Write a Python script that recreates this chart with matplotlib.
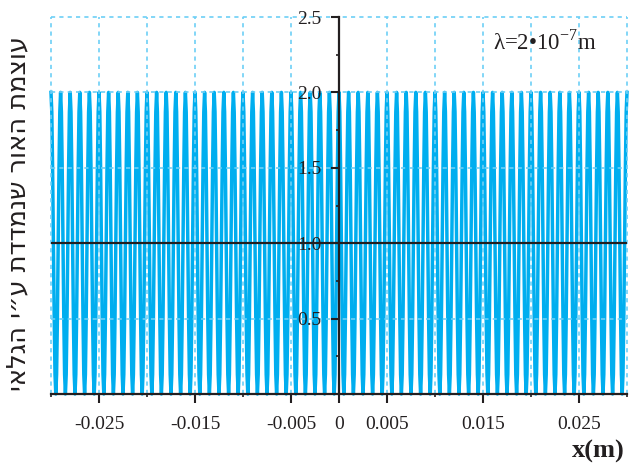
import numpy as np
import matplotlib
matplotlib.use('Agg')
import matplotlib.pyplot as plt

plt.rcParams['mathtext.fontset'] = 'custom'
plt.rcParams['mathtext.rm'] = 'Liberation Serif'

# data
x_min, x_max = -0.03, 0.03
fringe_spacing = 0.001      # one bright fringe every 1 mm
# intensity across one fringe (peak -> dark -> next peak)
fringe_profile = [2.0, 1.87, 1.5, 1.0, 0.5, 0.13, 0.0, 0.13, 0.5, 1.0, 1.5, 1.87]

x_ticks = [-0.025, -0.015, -0.005, 0, 0.005, 0.015, 0.025]
x_ticklabels = ['-0.025', '-0.015', '-0.005', '0', '0.005', '0.015', '0.025']
x_minor = [-0.03, -0.02, -0.01, 0.01, 0.02, 0.03]
y_ticks = [0.5, 1.0, 1.5, 2.0, 2.5]
y_ticklabels = ['0.5', '1.0', '1.5', '2.0', '2.5']
y_minor = [0.25, 0.75, 1.25, 1.75, 2.25]

ylabel = 'עוצמת האור שנמדדת ע״י הגלאי'
xlabel = 'x(m)'
wave_label = r'λ=2•10$^{\mathregular{-7}}$m'

# build the fringe line from the profile
n_fringes = int(round((x_max - x_min) / fringe_spacing))
step = fringe_spacing / len(fringe_profile)
xs = x_min + np.arange(n_fringes * len(fringe_profile) + 1) * step
ys = np.append(np.tile(fringe_profile, n_fringes), fringe_profile[0])

cyan = '#00AEEF'
grid_c = '#6DCFF6'

fig = plt.figure(figsize=(6.36, 4.68), dpi=100)
ax = fig.add_axes([51/636, 1 - 394/468, 576/636, 377/468])

ax.plot(xs, ys, color=cyan, lw=2.5, clip_on=False, zorder=2)

# dashed grid, drawn over the fringes
for gx in sorted(x_ticks + x_minor):
    if gx == 0:
        continue
    ax.axvline(gx, color=grid_c, lw=1.2, ls=(0, (2.5, 2.5)), zorder=2.2, clip_on=False)
for gy in y_ticks:
    if gy == 1.0:
        continue
    ax.axhline(gy, color=grid_c, lw=1.2, ls=(0, (2.5, 2.5)), zorder=2.2, clip_on=False)
ax.axhline(1.0, color='#231F20', lw=1.6, zorder=2.6)

ax.set_xlim(x_min, x_max)
ax.set_ylim(0, 2.5)

ax.spines['left'].set_position(('data', 0))
ax.spines['right'].set_visible(False)
ax.spines['top'].set_visible(False)
for s in ['left', 'bottom']:
    ax.spines[s].set_linewidth(1.6)
    ax.spines[s].set_color('#231F20')
    ax.spines[s].set_zorder(2.7)

ax.set_xticks(x_ticks)
ax.set_xticklabels(x_ticklabels, family='Liberation Serif', fontsize=14)
ax.set_xticks(x_minor, minor=True)
ax.set_yticks(y_ticks)
ax.set_yticklabels(y_ticklabels, family='Liberation Serif', fontsize=14)
ax.set_yticks(y_minor, minor=True)
ax.tick_params(axis='x', which='major', length=6.5, width=1.5, pad=9, colors='#231F20')
ax.tick_params(axis='x', which='minor', length=2.5, width=1.2, colors='#231F20')
ax.tick_params(axis='y', which='major', length=5.5, width=1.5, pad=7, colors='#231F20')
ax.tick_params(axis='y', which='minor', length=2.5, width=1.2, colors='#231F20')
ax.set_axisbelow(False)

fig.text(625/636, 1 - 458/468, xlabel, ha='right', va='baseline',
         family='Liberation Serif', fontweight='bold', fontsize=19, color='#231F20')
fig.text(493/636, 1 - 49/468, wave_label, ha='left', va='baseline',
         family='Liberation Serif', fontsize=16.5, color='#231F20')
# matplotlib has no bidi, so the Hebrew is given in visual order
fig.text(18/636, 1 - 214/468, ylabel[::-1], rotation=90, ha='center', va='center',
         family='DejaVu Sans', fontsize=18.5, color='#231F20')

fig.savefig('out.png', dpi=100)
